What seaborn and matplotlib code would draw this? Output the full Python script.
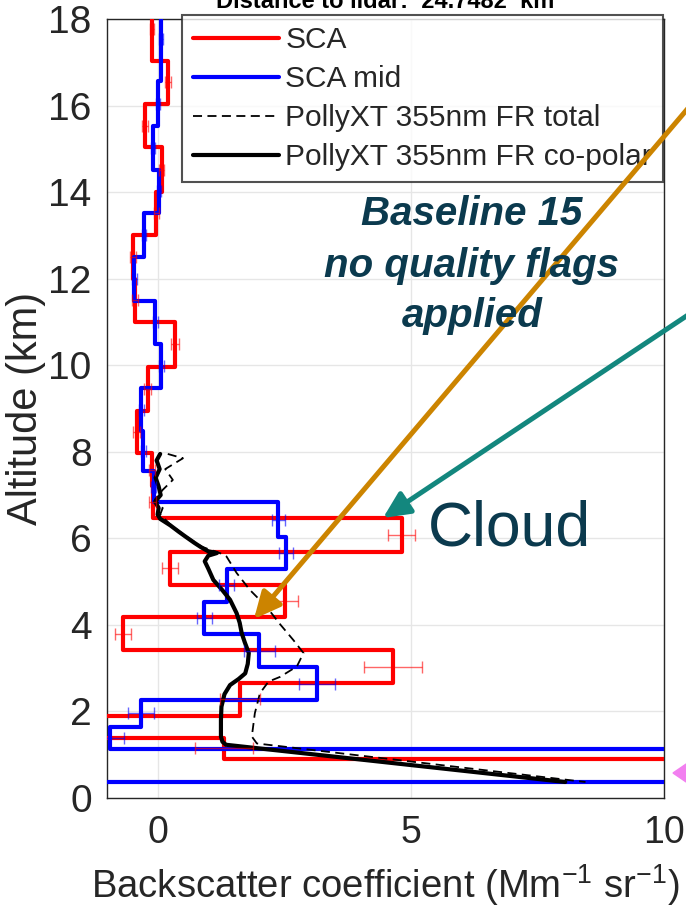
import numpy as np
import pandas as pd
import matplotlib
matplotlib.use("Agg")
import matplotlib.pyplot as plt
from matplotlib.patches import Polygon
import seaborn as sns

# SCA retrieval: bin edges (km, top to bottom), backscatter per bin, uncertainty
sca_edges = [18.5, 17.04, 16.03, 15.04, 14.0, 13.02, 12.0, 11.0, 9.97, 8.95, 7.97,
             7.2, 6.48, 5.69, 4.92, 4.18, 3.41, 2.66, 1.90, 1.39, 0.90, -0.14]
sca_beta = [-0.11, 0.21, -0.25, 0.08, -0.03, -0.49, -0.45, 0.35, -0.2, -0.41, -0.12,
            -0.10, 4.82, 0.24, 2.52, -0.68, 4.65, 1.63, -1.6, 1.31, 15.0]
sca_err = [0.04, 0.06, 0.05, 0.05, 0.05, 0.06, 0.06, 0.08, 0.06, 0.07, 0.06,
           0.07, 0.27, 0.16, 0.25, 0.16, 0.58, 0.40, 0.45, 0.57, 1.0]

# SCA mid-bin retrieval
mid_edges = [18.5, 16.56, 15.52, 14.52, 13.52, 12.51, 11.48, 10.5, 9.48, 8.47, 7.56,
             6.83, 6.04, 5.29, 4.54, 3.79, 3.02, 2.27, 1.65, 1.13, 0.38, -0.6]
mid_beta = [0.06, 0.0, -0.1, 0.03, -0.27, -0.46, -0.05, 0.07, -0.32, -0.28, -0.08,
            2.38, 2.54, 1.36, 0.92, 2.01, 3.15, -0.33, -0.94, 14.0, -3.0]
mid_err = [0.04, 0.04, 0.04, 0.04, 0.04, 0.05, 0.05, 0.05, 0.05, 0.05, 0.05,
           0.13, 0.14, 0.14, 0.15, 0.30, 0.36, 0.25, 0.28, 1.0, 0.5]

# PollyXT 355 nm far-range profiles
total_alt = [7.95, 7.85, 7.6, 7.35, 7.12, 6.9, 6.7, 6.55, 6.3, 6.04, 5.8, 5.66, 5.58,
             5.2, 4.81, 4.42, 4.04, 3.65, 3.35, 3.04, 2.8, 2.69, 2.42, 1.96, 1.42,
             1.26, 0.37]
total_beta = [0.2, 0.5, 0.15, 0.3, 0.1, -0.05, 0.1, 0.05, 0.27, 0.57, 0.88, 1.23, 1.36,
              1.56, 1.82, 2.15, 2.4, 2.68, 2.88, 2.75, 2.42, 2.19, 2.02, 1.92, 1.86,
              1.96, 8.45]
copol_alt = [7.95, 7.8, 7.6, 7.4, 7.2, 7.0, 6.85, 6.7, 6.55, 6.45, 6.3, 6.15, 6.04,
             5.9, 5.8, 5.7, 5.66, 5.6, 5.47, 5.3, 5.04, 4.8, 4.58, 4.27, 4.05, 3.81,
             3.6, 3.35, 3.1, 2.88, 2.75, 2.61, 2.4, 2.11, 1.8, 1.42, 1.30, 1.23, 0.37]
copol_beta = [0.05, -0.02, 0.04, -0.04, 0.02, 0.06, -0.05, 0.02, 0.0, 0.05, 0.25, 0.42,
              0.55, 0.72, 0.85, 1.0, 1.17, 1.0, 0.93, 1.0, 1.1, 1.28, 1.43, 1.56, 1.62,
              1.66, 1.72, 1.8, 1.78, 1.73, 1.6, 1.43, 1.32, 1.26, 1.25, 1.25, 1.28,
              1.35, 8.05]

legend_labels = ["SCA", "SCA mid", "PollyXT 355nm FR total", "PollyXT 355nm FR co-polar"]
x_ticks = [0, 5, 10]
y_ticks = list(range(0, 19, 2))


def staircase(edges, values):
    xs, ys = [], []
    for i, v in enumerate(values):
        xs += [v, v]
        ys += [edges[i], edges[i + 1]]
    return pd.DataFrame({"beta": xs, "alt": ys})


def bin_mids(edges):
    e = np.asarray(edges)
    return (e[:-1] + e[1:]) / 2


sns.set_theme(style="white")
plt.rcParams["font.family"] = ["Liberation Sans", "DejaVu Sans"]
plt.rcParams["mathtext.default"] = "regular"

W, H = 686, 915
fig = plt.figure(figsize=(W / 100, H / 100), dpi=100)
ax = fig.add_axes([107 / W, (H - 798) / H, (664 - 107) / W, (798 - 19) / H])

red, blue, ink = "#ff0000", "#0000ff", "#262626"

sca_df = staircase(sca_edges, sca_beta)
mid_df = staircase(mid_edges, mid_beta)
sns.lineplot(data=sca_df, x="beta", y="alt", sort=False, estimator=None,
             color=red, lw=3.0, ax=ax, label=legend_labels[0], zorder=3)
sns.lineplot(data=mid_df, x="beta", y="alt", sort=False, estimator=None,
             color=blue, lw=3.0, ax=ax, label=legend_labels[1], zorder=3)

tot_df = pd.DataFrame({"beta": total_beta, "alt": total_alt})
cop_df = pd.DataFrame({"beta": copol_beta, "alt": copol_alt})
sns.lineplot(data=tot_df, x="beta", y="alt", sort=False, estimator=None,
             color="black", lw=1.3, ax=ax, label=legend_labels[2], zorder=4)
ax.lines[-1].set_linestyle((0, (5, 3)))
sns.lineplot(data=cop_df, x="beta", y="alt", sort=False, estimator=None,
             color="black", lw=3.0, ax=ax, label=legend_labels[3], zorder=4)

ax.errorbar(sca_beta, bin_mids(sca_edges), xerr=sca_err, fmt="none",
            ecolor=red, elinewidth=1.0, capsize=4, alpha=0.6, zorder=5)
ax.errorbar(mid_beta, bin_mids(mid_edges), xerr=mid_err, fmt="none",
            ecolor=blue, elinewidth=1.0, capsize=4, alpha=0.6, zorder=5)

ax.set_xlim(-1, 10)
ax.set_ylim(0, 18)
ax.set_xticks(x_ticks)
ax.set_yticks(y_ticks)
ax.grid(True, color="#e6e6e6", lw=1.0)
ax.set_axisbelow(True)
for s in ax.spines.values():
    s.set_visible(True)
    s.set_color(ink)
    s.set_linewidth(1.0)
ax.tick_params(direction="in", length=6, width=1, color=ink, labelcolor=ink)
ax.tick_params(axis="x", pad=12, labelsize=27)
ax.tick_params(axis="y", pad=11, labelsize=28)
ax.set_xlabel(r"Backscatter coefficient (Mm$^{-1}$ sr$^{-1}$)", fontsize=27.5,
              color=ink, labelpad=8)
ax.set_ylabel("Altitude (km)", fontsize=30, color=ink, labelpad=2)

handles = ax.get_legend_handles_labels()[0]
leg = ax.legend(handles, legend_labels, loc="upper right",
                bbox_to_anchor=(663 / W, (H - 15) / H), bbox_transform=fig.transFigure,
                borderaxespad=0, fontsize=21.5, frameon=True, fancybox=False,
                handlelength=2.9, handletextpad=0.2, labelspacing=0.37,
                borderpad=0.37)
leg.get_frame().set_edgecolor(ink)
leg.get_frame().set_linewidth(1.5)
leg.set_zorder(6)

fig.text(385 / W, 1 - 8 / H, "Distance to lidar:  24.7482  km", ha="center",
         va="baseline", fontsize=17, weight="bold", color="black")

note_color = "#0b3a4e"
for line, base in zip(["Baseline 15", "no quality flags", "applied"], [225, 277, 327]):
    fig.text(472 / W, 1 - base / H, line, ha="center", va="baseline", fontsize=29,
             weight="bold", style="italic", color=note_color, zorder=7)
fig.text(428 / W, 1 - 545 / H, "Cloud", ha="left", va="baseline", fontsize=45,
         color=note_color, zorder=7)

# pointer arrows
head = "-|>,head_length=0.8,head_width=0.38"
ax.annotate("", xy=(254, H - 619), xycoords="figure pixels",
            xytext=(701, H - 93), textcoords="figure pixels",
            arrowprops=dict(arrowstyle=head, color="#cc8400", lw=3.6,
                            mutation_scale=20, shrinkA=0, shrinkB=0),
            annotation_clip=False, zorder=8)
ax.annotate("", xy=(383, H - 518), xycoords="figure pixels",
            xytext=(700, H - 307), textcoords="figure pixels",
            arrowprops=dict(arrowstyle=head, color="#13877e", lw=3.6,
                            mutation_scale=20, shrinkA=0, shrinkB=0),
            annotation_clip=False, zorder=8)

tri = Polygon([[673 / W, 1 - 773 / H], [692 / W, 1 - 760 / H], [692 / W, 1 - 786 / H]],
              closed=True, transform=fig.transFigure, color="#f27ff0", zorder=8)
fig.patches.append(tri)

fig.savefig("out.png", dpi=100)
